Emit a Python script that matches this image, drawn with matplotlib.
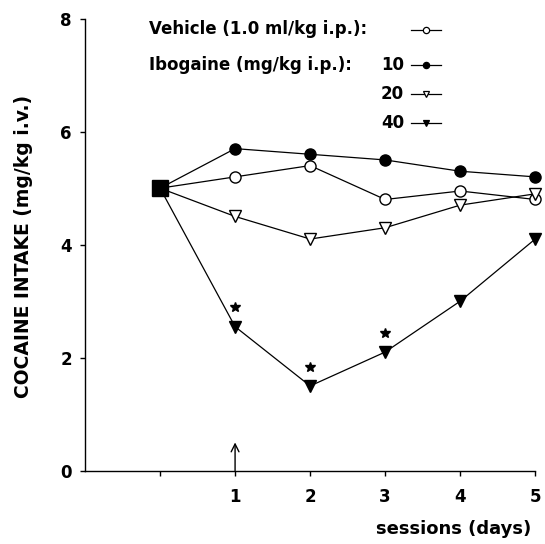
import matplotlib
matplotlib.use("Agg")
import matplotlib.pyplot as plt
from matplotlib.lines import Line2D

plt.rcParams['font.family'] = ['DejaVu Sans']
plt.rcParams['font.weight'] = 'bold'

# data (day 0 = baseline)
days = [0, 1, 2, 3, 4, 5]
baseline = 5.0
vehicle = [5.0, 5.2, 5.4, 4.8, 4.95, 4.8]
ibo10 = [5.0, 5.7, 5.6, 5.5, 5.3, 5.2]
ibo20 = [5.0, 4.5, 4.1, 4.3, 4.7, 4.9]
ibo40 = [5.0, 2.55, 1.5, 2.1, 3.0, 4.1]
star_days = [1, 2, 3]
xtick_labels = ['', '1', '2', '3', '4', '5']
ytick_vals = [0, 2, 4, 6, 8]

fig = plt.figure(figsize=(5.45, 5.44), dpi=100)
ax = fig.add_axes([0.156, 0.1347, 0.826, 0.831])

lw = 0.9
series = [
    (vehicle, 'o', 'white', 8),
    (ibo10, 'o', 'black', 8),
    (ibo20, 'v', 'white', 8.5),
    (ibo40, 'v', 'black', 9),
]
for vals, mk, fc, ms in series:
    ax.plot(days, vals, color='black', lw=lw, zorder=2, clip_on=False)
    ax.plot(days[1:], vals[1:], linestyle='none', marker=mk, ms=ms,
            mfc=fc, mec='black', mew=1.0, zorder=3, clip_on=False)
ax.plot([0], [baseline], marker='s', ms=11, color='black', zorder=4, clip_on=False)

# significance stars above the 40 mg/kg points
star_y = [ibo40[d] + 0.34 for d in star_days]
ax.plot(star_days, star_y, linestyle='none', marker='*', ms=7.5, color='black')

# injection arrow at day 1
ax.annotate('', xy=(1, 0.5), xytext=(1, 0.0),
            arrowprops=dict(arrowstyle='->', lw=1.0, color='black',
                            mutation_scale=14, shrinkA=0, shrinkB=0))

ax.set_xlim(-1, 5)
ax.set_ylim(0, 8)
ax.set_xticks(days)
ax.set_xticklabels(xtick_labels)
ax.set_yticks(ytick_vals)
ax.spines['top'].set_visible(False)
ax.spines['right'].set_visible(False)
ax.spines['left'].set_linewidth(1.0)
ax.spines['bottom'].set_linewidth(1.0)
ax.tick_params(axis='both', direction='out', length=3.5, width=1.0, labelsize=12)
ax.tick_params(axis='x', pad=9)
ax.tick_params(axis='y', pad=6)

fig.text(0.043, 0.547, 'COCAINE INTAKE (mg/kg i.v.)', rotation=90,
         ha='center', va='center', fontsize=13.5)
fig.text(0.974, 0.028, 'sessions (days)', ha='right', va='center', fontsize=13)

# legend drawn by hand
fs = 12
fig.text(149 / 545, 1 - 29.5 / 544, 'Vehicle (1.0 ml/kg i.p.):', ha='left', va='center', fontsize=fs)
fig.text(149 / 545, 1 - 65 / 544, 'Ibogaine (mg/kg i.p.):', ha='left', va='center', fontsize=fs)
legend_rows = [('', 29.5, 'o', 'white'), ('10', 65, 'o', 'black'),
               ('20', 94, 'v', 'white'), ('40', 123, 'v', 'black')]
for lab, ypx, mk, fc in legend_rows:
    yf = 1 - ypx / 544
    if lab:
        fig.text(404 / 545, yf, lab, ha='right', va='center', fontsize=fs)
    fig.add_artist(Line2D([411 / 545, 441 / 545], [yf, yf], color='black', lw=0.9,
                          transform=fig.transFigure))
    fig.add_artist(Line2D([426 / 545], [yf], marker=mk, ms=4.5, mfc=fc, mec='black',
                          mew=0.9, transform=fig.transFigure))

fig.savefig('out.png', dpi=100)
